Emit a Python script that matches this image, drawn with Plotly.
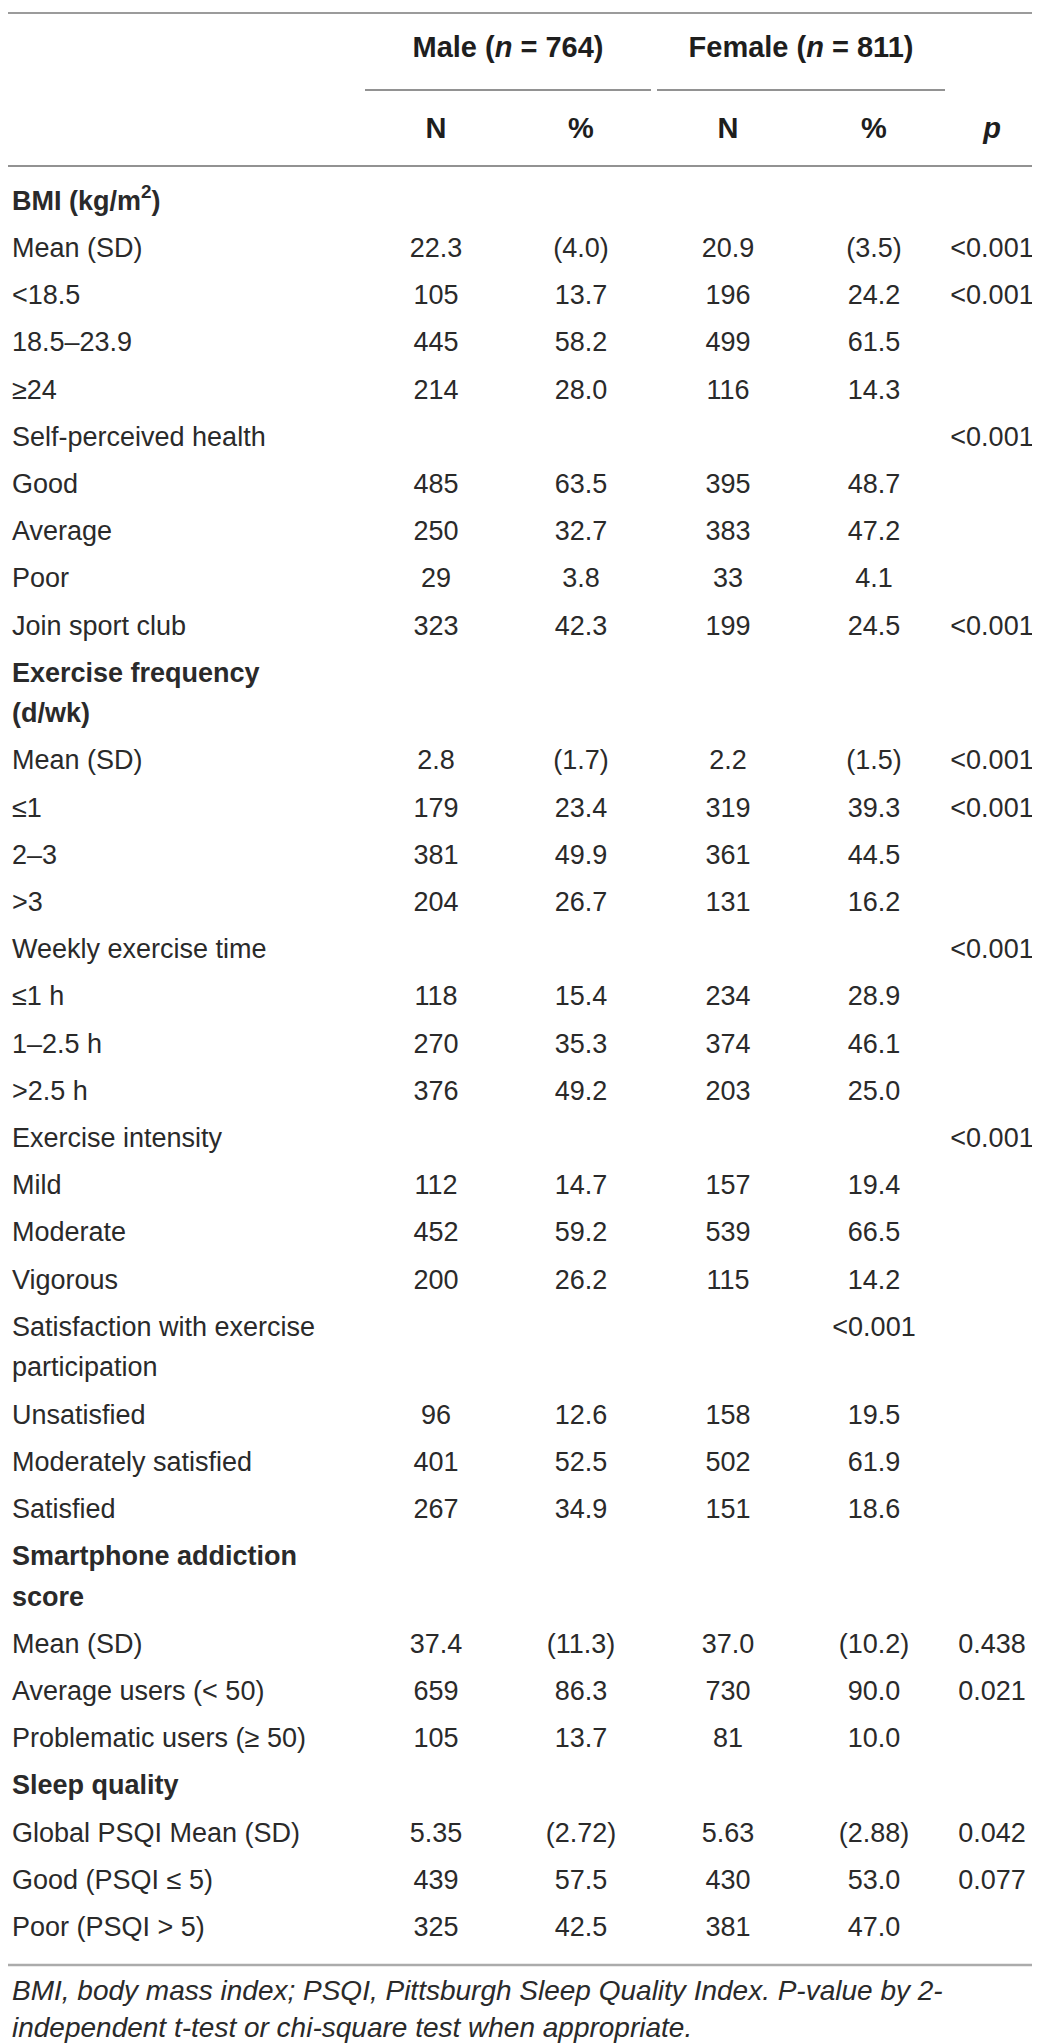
import plotly.graph_objects as go

# table content
row_labels = [
    "BMI (kg/m<sup>2</sup>)", "Mean (SD)", "<18.5", "18.5–23.9", "≥24",
    "Self-perceived health", "Good", "Average", "Poor", "Join sport club",
    "Exercise frequency<br>(d/wk)", "Mean (SD)", "≤1", "2–3", ">3",
    "Weekly exercise time", "≤1 h", "1–2.5 h", ">2.5 h",
    "Exercise intensity", "Mild", "Moderate", "Vigorous",
    "Satisfaction with exercise<br>participation", "Unsatisfied", "Moderately satisfied", "Satisfied",
    "Smartphone addiction<br>score", "Mean (SD)", "Average users (< 50)", "Problematic users (≥ 50)",
    "Sleep quality", "Global PSQI Mean (SD)", "Good (PSQI ≤ 5)", "Poor (PSQI > 5)",
]
section_rows = [0, 10, 27, 31]

male_n = ["", "22.3", "105", "445", "214", "", "485", "250", "29", "323",
          "", "2.8", "179", "381", "204", "", "118", "270", "376",
          "", "112", "452", "200", "", "96", "401", "267",
          "", "37.4", "659", "105", "", "5.35", "439", "325"]
male_pct = ["", "(4.0)", "13.7", "58.2", "28.0", "", "63.5", "32.7", "3.8", "42.3",
            "", "(1.7)", "23.4", "49.9", "26.7", "", "15.4", "35.3", "49.2",
            "", "14.7", "59.2", "26.2", "", "12.6", "52.5", "34.9",
            "", "(11.3)", "86.3", "13.7", "", "(2.72)", "57.5", "42.5"]
female_n = ["", "20.9", "196", "499", "116", "", "395", "383", "33", "199",
            "", "2.2", "319", "361", "131", "", "234", "374", "203",
            "", "157", "539", "115", "", "158", "502", "151",
            "", "37.0", "730", "81", "", "5.63", "430", "381"]
female_pct = ["", "(3.5)", "24.2", "61.5", "14.3", "", "48.7", "47.2", "4.1", "24.5",
              "", "(1.5)", "39.3", "44.5", "16.2", "", "28.9", "46.1", "25.0",
              "", "19.4", "66.5", "14.2", "<0.001", "19.5", "61.9", "18.6",
              "", "(10.2)", "90.0", "10.0", "", "(2.88)", "53.0", "47.0"]
p_values = ["", "<0.001", "<0.001", "", "", "<0.001", "", "", "", "<0.001",
            "", "<0.001", "<0.001", "", "", "<0.001", "", "", "",
            "<0.001", "", "", "", "", "", "", "",
            "", "0.438", "0.021", "", "", "0.042", "0.077", ""]

group_headers = ["Male (<i>n</i> = 764)", "Female (<i>n</i> = 811)"]
sub_headers = ["N", "%", "N", "%", "<i>p</i>"]

footnote = ["BMI, body mass index; PSQI, Pittsburgh Sleep Quality Index. P-value by 2-",
            "independent t-test or chi-square test when appropriate."]

# layout constants (pixel space)
W, H = 1040, 2043
FONT = "Liberation Sans, Arial, sans-serif"
TXT = "#2a2a2a"
SIZE = 27
col_x = [428, 573, 720, 866, 984]
label_x = 4
first_row_y = 195
row_step = 47.2
line_step = 40.5

# y position of every row (second lines of wrapped labels go below)
row_y = []
y = first_row_y
for lab in row_labels:
    row_y.append(y)
    y += row_step + line_step * (len(lab.split("<br>")) - 1)

fig = go.Figure()

# label column
lx, ly, lt = [], [], []
for i, lab in enumerate(row_labels):
    for k, part in enumerate(lab.split("<br>")):
        lx.append(label_x)
        ly.append(row_y[i] + k * line_step)
        lt.append("<b>" + part + "</b>" if i in section_rows else part)

fig.add_trace(go.Scatter(x=lx, y=ly, text=lt, mode="text", textposition="middle right",
                         textfont=dict(family=FONT, size=SIZE, color=TXT),
                         hoverinfo="skip", showlegend=False))

for cx, vals in zip(col_x, [male_n, male_pct, female_n, female_pct, p_values]):
    keep = [i for i, v in enumerate(vals) if v]
    fig.add_trace(go.Scatter(x=[cx] * len(keep), y=[row_y[i] for i in keep],
                             text=[vals[i] for i in keep], mode="text",
                             textposition="middle center",
                             textfont=dict(family=FONT, size=SIZE, color=TXT),
                             hoverinfo="skip", showlegend=False))

# header rows
fig.add_trace(go.Scatter(x=[500, 793], y=[42, 42], text=["<b>" + g + "</b>" for g in group_headers],
                         mode="text", textposition="middle center",
                         textfont=dict(family=FONT, size=29, color="#1e1e1e"),
                         hoverinfo="skip", showlegend=False))
fig.add_trace(go.Scatter(x=col_x, y=[123] * 5, text=["<b>" + s + "</b>" for s in sub_headers],
                         mode="text", textposition="middle center",
                         textfont=dict(family=FONT, size=29, color="#1e1e1e"),
                         hoverinfo="skip", showlegend=False))

# footnote
fig.add_trace(go.Scatter(x=[label_x, label_x], y=[1985, 2022], text=["<i>" + f + "</i>" for f in footnote],
                         mode="text", textposition="middle right",
                         textfont=dict(family=FONT, size=28, color=TXT),
                         hoverinfo="skip", showlegend=False))

# rules
rule = dict(type="line", xref="x", yref="y")
fig.add_shape(**rule, x0=0, x1=W, y0=5, y1=5, line=dict(color="#7a7a7a", width=1.5))
fig.add_shape(**rule, x0=357, x1=643, y0=82, y1=82, line=dict(color="#6e6e6e", width=1.5))
fig.add_shape(**rule, x0=649, x1=937, y0=82, y1=82, line=dict(color="#6e6e6e", width=1.5))
fig.add_shape(**rule, x0=0, x1=W, y0=158, y1=158, line=dict(color="#6e6e6e", width=1.5))
fig.add_shape(**rule, x0=0, x1=1035, y0=1957, y1=1957, line=dict(color="#ababab", width=2.5))

fig.update_xaxes(range=[0, W], visible=False, fixedrange=True)
fig.update_yaxes(range=[H, 0], visible=False, fixedrange=True)
fig.update_layout(width=W, height=H, autosize=False,
                  margin=dict(l=0, r=0, t=0, b=0),
                  paper_bgcolor="white", plot_bgcolor="white",
                  font=dict(family=FONT))

fig.write_html("out.html")
